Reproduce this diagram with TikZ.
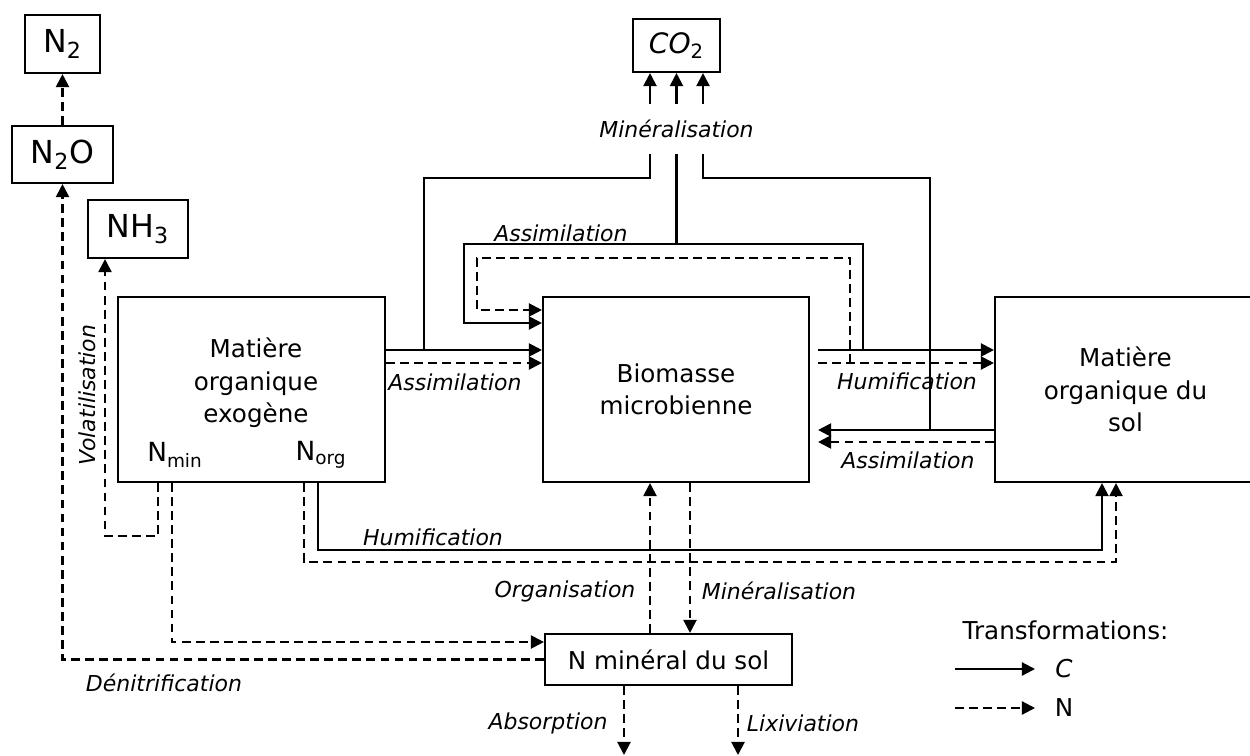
\documentclass[tikz,border=0pt]{standalone}
\usepackage{fontspec}
\setmainfont{DejaVu Sans}
\usetikzlibrary{arrows.meta,positioning}

\begin{document}
\begin{tikzpicture}[x=0.2mm,y=-0.2mm,line width=1.2pt,
    box/.style={draw,inner sep=0pt,align=center,font=\fontsize{14}{18.5}\selectfont},
    gas/.style={draw,inner sep=0pt,font=\fontsize{18}{22}\selectfont},
    txt/.style={align=center,font=\fontsize{14}{18.5}\selectfont},
    lbl/.style={font=\fontsize{12.5}{15}\selectfont\itshape},
    cflux/.style={-{Triangle[length=7.5pt,width=7.5pt]}},
    nflux/.style={cflux,dash pattern=on 5pt off 3pt}]
    \clip (0,0) rectangle (1250,756);

    % compartments
    \node[gas,minimum width=15mm,minimum height=11.6mm] (n2) at (62.5,44) {N\textsubscript{2}};
    \node[gas,minimum width=20.2mm,minimum height=11.4mm] (n2o) at (62.5,154.5) {N\textsubscript{2}O};
    \node[gas,minimum width=20mm,minimum height=11.6mm] (nh3) at (138,229) {NH\textsubscript{3}};
    \node[gas,minimum width=17.4mm,minimum height=10.6mm,font=\fontsize{16}{20}\selectfont] (co2) at (676.5,45.5) {\itshape CO\textsubscript{\upshape 2}};
    \node[box,minimum width=53.4mm,minimum height=37mm] (moe) at (251.5,389.5) {};
    \node[txt] (moetxt) at (256,383) {Matière\\organique\\exogène};
    \node[txt,font=\fontsize{15}{18}\selectfont] (nminl) at (175,455) {N\textsubscript{min}};
    \node[txt,font=\fontsize{15}{18}\selectfont] (norgl) at (321,455) {N\textsubscript{org}};
    \node[box,minimum width=53.2mm,minimum height=37mm] (bio) at (676,389.5) {Biomasse\\microbienne};
    \node[box,minimum width=52.2mm,minimum height=37mm] (mos) at (1125.5,389.5) {Matière\\organique du\\sol};
    \node[box,minimum width=49.4mm,minimum height=10.2mm] (nmin) at (668.5,659.5) {N minéral du sol};

    % flux labels
    \node[lbl,minimum height=9.4mm] (minco2) at (676.5,129) {Minéralisation};
    \node[lbl] (assloop) at (561,233) {Assimilation};
    \node[lbl] (assmoe) at (455,382) {Assimilation};
    \node[lbl] (humbio) at (907,381) {Humification};
    \node[lbl] (assmos) at (908,460) {Assimilation};
    \node[lbl,rotate=90] (volat) at (87,395) {Volatilisation};
    \node[lbl] (hummoe) at (433,537) {Humification};
    \node[lbl] (organ) at (565,591) {Organisation};
    \node[lbl] (minbio) at (779,591) {Minéralisation};
    \node[lbl] (denit) at (164,683) {Dénitrification};
    \node[lbl] (absorp) at (548,723) {Absorption};
    \node[lbl] (lixiv) at (803,723) {Lixiviation};

    % helper points
    \coordinate (bioR) at ([xshift=1.6mm]bio.east);
    \coordinate (jA) at (424,350);
    \coordinate (jB) at (930,430);
    \coordinate (jC) at (863,350);
    \coordinate (jD) at (850,363);
    \coordinate (abs) at (624,755);
    \coordinate (lix) at (738,755);

    % C fluxes
    \draw[cflux] (moe.east |- 0,350) -- (bio.west |- 0,350);
    \draw[cflux] (bioR |- 0,350) -- (mos.west |- 0,350);
    \draw[cflux] (mos.west |- 0,430) -- (bioR |- 0,430);
    \draw[cflux] (jC) |- (464,244) |- (bio.west |- 0,323);
    \draw (jA) |- (650,178) -- (minco2.south -| 650,0);
    \draw (minco2.south) -- (minco2.south |- 0,244);
    \draw (jB) |- (703,178) -- (minco2.south -| 703,0);
    \foreach \dx in {-26.5,0,26.5}
        \draw[cflux] ([xshift=\dx*0.2mm]minco2.north) -- ([xshift=\dx*0.2mm]co2.south);
    \draw[cflux] (moe.south -| 318,0) -- (318,550) -| (mos.south -| 1102,0);

    % N fluxes
    \draw[nflux] (moe.east |- 0,363) -- (bio.west |- 0,363);
    \draw[nflux] (bioR |- 0,363) -- (mos.west |- 0,363);
    \draw[nflux] (mos.west |- 0,442) -- (bioR |- 0,442);
    \draw[nflux] (jD) |- (477,258) |- (bio.west |- 0,310);
    \draw[nflux] (moe.south -| 304,0) -- (304,562) -| (mos.south -| 1116,0);
    \draw[nflux] (moe.south -| 158,0) -- (158,536) -| (nh3.south -| 105,0);
    \draw[nflux] (moe.south -| 172,0) |- (nmin.west |- 0,642);
    \draw[nflux] (nmin.west) -| (n2o.south);
    \draw[nflux] (n2o) -- (n2);
    \draw[nflux] (nmin.north -| 650,0) -- (bio.south -| 650,0);
    \draw[nflux] (bio.south -| 690,0) -- (nmin.north -| 690,0);
    \draw[nflux] (nmin.south -| 624,0) -- (abs);
    \draw[nflux] (nmin.south -| 738,0) -- (lix);

    % legend
    \node[txt] (legtitle) at (1065.5,630) {Transformations:};
    \coordinate (legC) at (955,669);
    \coordinate (legN) at (955,708);
    \node[txt] (legCtxt) at (1064,669) {\itshape C};
    \node[txt] (legNtxt) at (1064,708) {N};
    \draw[cflux] (legC) -- ++(80,0);
    \draw[nflux] (legN) -- ++(80,0);
\end{tikzpicture}
\end{document}
